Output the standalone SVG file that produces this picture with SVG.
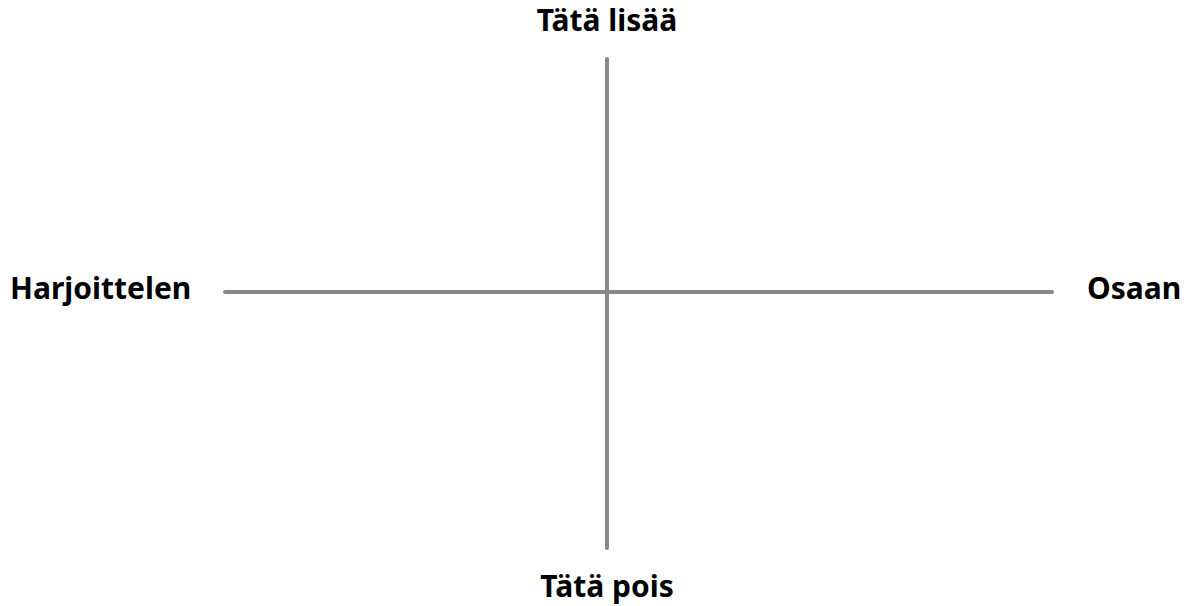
<svg xmlns="http://www.w3.org/2000/svg" width="1190" height="606" viewBox="0 0 1190 606">
<style>
.lbl{font-family:"Noto Sans","Open Sans","DejaVu Sans",sans-serif;font-weight:bold;font-size:30px;fill:#000}
.ax{stroke:#888;stroke-width:4;stroke-linecap:round;fill:none}
</style>
<rect width="1190" height="606" fill="#fff"/>
<g id="connectors">
<line class="ax" x1="607" y1="59" x2="607" y2="548"/>
<line class="ax" x1="225" y1="292" x2="1052" y2="292"/>
</g>
<g id="top"><text class="lbl" x="607" y="31" text-anchor="middle">Tätä lisää</text></g>
<g id="bottom"><text class="lbl" x="607" y="597" text-anchor="middle">Tätä pois</text></g>
<g id="left"><text class="lbl" x="10" y="299">Harjoittelen</text></g>
<g id="right"><text class="lbl" x="1087" y="299">Osaan</text></g>
</svg>
